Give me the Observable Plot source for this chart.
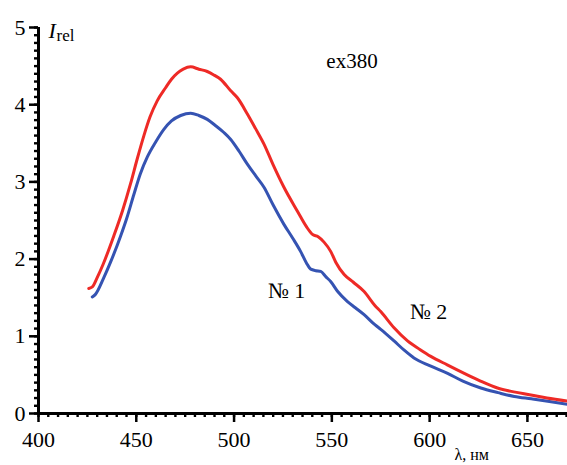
<!DOCTYPE html>
<html><head><meta charset="utf-8">
<script src="https://cdn.jsdelivr.net/npm/d3@7"></script>
<script src="https://cdn.jsdelivr.net/npm/@observablehq/plot@0.6"></script>
<style>body{margin:0;background:#fff} svg{display:block} #chart svg text{font-family:"Liberation Serif","Times New Roman",serif;}</style>
</head><body><div id="chart"></div>
<script>
// Series № 1 (blue)
const lambda1 = [427.5,429,433.4,437,442,445,448.8,452,455.6,460,464.1,468,472.7,477.8,482,486.3,490,494.8,498.3,502.5,506.8,511,515.3,520,525.5,530,534,537,539.2,542,544.3,547,549.4,553,558,562,566.5,572,575,581.8,587,592,600,609.2,617,626.2,635,643.3,652,660.4,670.5];
const irel1   = [1.51,1.54,1.76,1.97,2.30,2.52,2.84,3.10,3.32,3.52,3.68,3.79,3.86,3.89,3.86,3.81,3.74,3.64,3.55,3.40,3.23,3.08,2.93,2.70,2.45,2.27,2.10,1.95,1.87,1.85,1.84,1.77,1.71,1.58,1.45,1.37,1.28,1.15,1.09,0.94,0.82,0.72,0.62,0.52,0.42,0.33,0.27,0.22,0.19,0.16,0.12];
// Series № 2 (red)
const lambda2 = [425.7,427.5,430,433,438.5,443,447,450.5,453.9,457,460.7,465,468,471,474,477.8,482,486.3,490,493.1,498.3,501.7,506.8,511,515.3,520,525.5,532.4,537,540.1,543,546,549.4,552,556.3,561,566.5,572,575,581.8,588.7,595,600.6,609,617.7,626,634.7,643,651.8,660,670.5];
const irel2   = [1.62,1.64,1.76,1.93,2.30,2.63,2.97,3.30,3.60,3.84,4.05,4.22,4.33,4.41,4.46,4.49,4.46,4.43,4.38,4.33,4.18,4.09,3.88,3.69,3.49,3.22,2.93,2.62,2.42,2.32,2.29,2.22,2.10,1.96,1.80,1.70,1.58,1.40,1.32,1.11,0.94,0.83,0.74,0.63,0.52,0.42,0.33,0.28,0.24,0.20,0.16];

const seriesNames = ["№ 1", "№ 2"];
const seriesColors = ["#3553b2", "#ee2a26"];
const xTicks = [400, 450, 500, 550, 600, 650];
const yTicks = [0, 1, 2, 3, 4, 5];
const xMinor = d3.range(400, 671, 5);
const yMinor = d3.range(0, 51).map(d => d / 10);

const data = [
  ...lambda1.map((l, i) => ({series: seriesNames[0], lambda: l, irel: irel1[i]})),
  ...lambda2.map((l, i) => ({series: seriesNames[1], lambda: l, irel: irel2[i]}))
];

const font = '"Liberation Serif", "Times New Roman", serif';

const chart = Plot.plot({
  width: 567, height: 465,
  marginLeft: 38, marginRight: 0, marginTop: 27, marginBottom: 52,
  style: {fontFamily: font, fontSize: "22px", color: "#000", background: "#fff", overflow: "visible"},
  x: {domain: [400, 670.5], label: null},
  y: {domain: [0, 5], label: null},
  color: {domain: seriesNames, range: seriesColors},
  marks: [
    Plot.axisX({ticks: xMinor, tickSize: 4, tickFormat: () => "", strokeWidth: 2.4, strokeOpacity: 1, label: null}),
    Plot.axisX({ticks: xTicks, tickSize: 9, tickPadding: 9, tickFormat: d3.format("d"), strokeWidth: 2.5, fontSize: 22, fontFamily: font, label: null}),
    Plot.axisY({ticks: yMinor, tickSize: 4, tickFormat: () => "", strokeWidth: 2.4, strokeOpacity: 1, label: null}),
    Plot.axisY({ticks: yTicks, tickSize: 9, tickPadding: 4, tickFormat: d3.format("d"), strokeWidth: 2.5, fontSize: 22, fontFamily: font, label: null}),
    Plot.ruleY([0], {strokeWidth: 3}),
    Plot.ruleX([400], {strokeWidth: 3}),
    Plot.line(data, {x: "lambda", y: "irel", z: "series", stroke: "series", strokeWidth: 3, curve: "monotone-x"}),
    Plot.text(["I"], {frameAnchor: "top-left", dx: 10, dy: 10, lineAnchor: "bottom", textAnchor: "start", fontStyle: "italic", fontSize: 22, fontFamily: font}),
    Plot.text(["rel"], {frameAnchor: "top-left", dx: 18, dy: 13, lineAnchor: "bottom", textAnchor: "start", fontSize: 17, fontFamily: font}),
    Plot.text(["ex380"], {x: 560.3, y: 4.47, lineAnchor: "bottom", textAnchor: "middle", fontSize: 21, fontFamily: font}),
    Plot.text([seriesNames[0]], {x: 526.8, y: 1.50, lineAnchor: "bottom", textAnchor: "middle", fontSize: 22, fontFamily: font}),
    Plot.text([seriesNames[1]], {x: 599.4, y: 1.23, lineAnchor: "bottom", textAnchor: "middle", fontSize: 22, fontFamily: font}),
    Plot.text(["λ, нм"], {x: 621.5, y: -0.60, lineAnchor: "bottom", textAnchor: "middle", fontSize: 16, fontFamily: font, clip: false})
  ]
});
document.getElementById("chart").appendChild(chart);
</script>
</body></html>
